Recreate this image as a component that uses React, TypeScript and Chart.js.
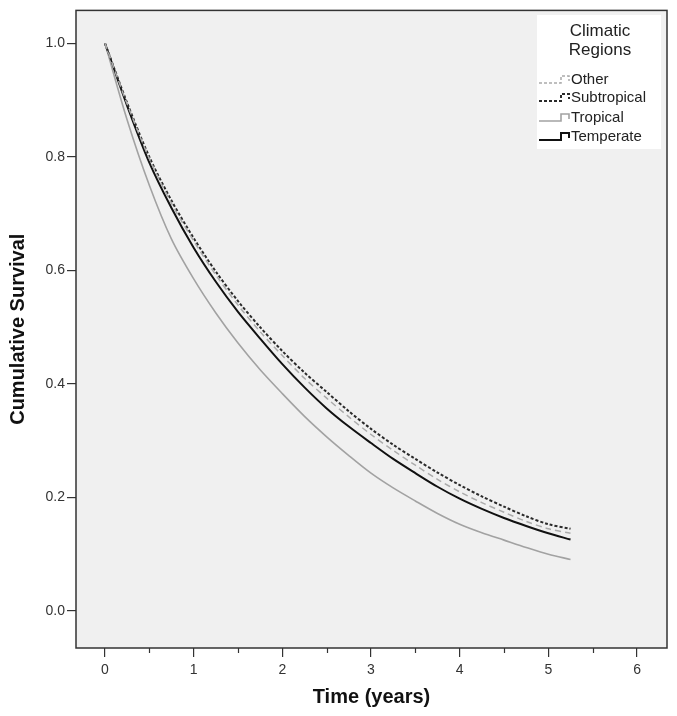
import React, { useEffect, useRef } from 'react';
import { Chart, registerables } from 'chart.js';

Chart.register(...registerables);

// Time points (years)
const times = [0, 0.25, 0.5, 0.75, 1.0, 1.25, 1.5, 1.75, 2.0, 2.25, 2.5, 2.75, 3.0, 3.25, 3.5, 3.75, 4.0, 4.25, 4.5, 4.75, 5.0, 5.25];

// Cumulative survival per climatic region
const other = [1.0, 0.893, 0.797, 0.718, 0.652, 0.592, 0.539, 0.492, 0.45, 0.41, 0.375, 0.342, 0.311, 0.283, 0.257, 0.232, 0.21, 0.191, 0.174, 0.158, 0.145, 0.137];
const subtropical = [1.0, 0.895, 0.8, 0.723, 0.657, 0.598, 0.546, 0.5, 0.458, 0.42, 0.386, 0.352, 0.321, 0.293, 0.268, 0.244, 0.222, 0.202, 0.184, 0.167, 0.153, 0.145];
const tropical = [1.0, 0.865, 0.75, 0.655, 0.585, 0.525, 0.472, 0.425, 0.383, 0.343, 0.307, 0.274, 0.243, 0.217, 0.194, 0.172, 0.153, 0.138, 0.125, 0.112, 0.1, 0.091];
const temperate = [1.0, 0.89, 0.79, 0.71, 0.64, 0.58, 0.527, 0.48, 0.435, 0.394, 0.357, 0.325, 0.296, 0.268, 0.243, 0.219, 0.198, 0.18, 0.164, 0.15, 0.137, 0.126];

const seriesNames = ['Other', 'Subtropical', 'Tropical', 'Temperate'];
const legendTitle = ['Climatic', 'Regions'];

const yTickValues = [0.0, 0.2, 0.4, 0.6, 0.8, 1.0];
const xTickValues = [0, 1, 2, 3, 4, 5, 6];
const xMinorTickValues = [0.5, 1.5, 2.5, 3.5, 4.5, 5.5];

const FONT = "'Liberation Sans', Arial, sans-serif";

const styles = [
  { color: '#ababab', width: 1.5, dash: [6, 4] },
  { color: '#2a2a2a', width: 2, dash: [3, 2] },
  { color: '#a2a2a2', width: 1.6, dash: [] as number[] },
  { color: '#111111', width: 2, dash: [] as number[] },
];

const seriesData = [other, subtropical, tropical, temperate];

const decorPlugin = {
  id: 'decor',
  beforeDraw(chart: any) {
    const { ctx, chartArea } = chart;
    const { left, top, right, bottom } = chartArea;
    ctx.save();
    ctx.fillStyle = '#f0f0f0';
    ctx.fillRect(left, top, right - left, bottom - top);
    ctx.restore();
  },
  afterDraw(chart: any) {
    const { ctx, chartArea } = chart;
    const { left, top, right, bottom } = chartArea;
    ctx.save();
    // frame
    ctx.strokeStyle = '#333';
    ctx.lineWidth = 1.5;
    ctx.strokeRect(left, top, right - left, bottom - top);
    // minor x ticks
    const xs = chart.scales.x;
    ctx.lineWidth = 1.2;
    ctx.strokeStyle = '#333';
    for (const v of xMinorTickValues) {
      const px = Math.round(xs.getPixelForValue(v)) + 0.5;
      ctx.beginPath();
      ctx.moveTo(px, bottom);
      ctx.lineTo(px, bottom + 5);
      ctx.stroke();
    }
    // legend box
    const bx = 537, by = 15, bw = 124, bh = 134;
    ctx.fillStyle = '#ffffff';
    ctx.fillRect(bx, by, bw, bh);
    ctx.fillStyle = '#222';
    ctx.textAlign = 'center';
    ctx.textBaseline = 'middle';
    ctx.font = `17px ${FONT}`;
    ctx.fillText(legendTitle[0], bx + bw / 2 + 1, 31);
    ctx.fillText(legendTitle[1], bx + bw / 2 + 1, 50);
    const itemYs = [80, 98, 118, 137];
    ctx.font = `15px ${FONT}`;
    ctx.textAlign = 'left';
    seriesNames.forEach((name, i) => {
      const y = itemYs[i];
      const st = styles[i];
      ctx.save();
      ctx.strokeStyle = st.color;
      ctx.lineWidth = st.width;
      ctx.setLineDash(st.dash.length ? [3, 2] : []);
      ctx.beginPath();
      ctx.moveTo(539, y + 3);
      ctx.lineTo(561, y + 3);
      ctx.lineTo(561, y - 4);
      ctx.lineTo(569, y - 4);
      ctx.lineTo(569, y + 1);
      ctx.stroke();
      ctx.restore();
      ctx.fillStyle = '#222';
      ctx.fillText(name, 571, y);
    });
    ctx.restore();
  },
};

export default function App() {
  const ref = useRef<HTMLCanvasElement | null>(null);

  useEffect(() => {
    if (!ref.current) return;
    const datasets = seriesNames.map((name, i) => ({
      label: name,
      data: times.map((t, j) => ({ x: t, y: seriesData[i][j] })),
      borderColor: styles[i].color,
      borderWidth: styles[i].width,
      borderDash: styles[i].dash,
      pointRadius: 0,
      fill: false,
      tension: 0.3,
    }));
    const chart = new Chart(ref.current, {
      type: 'line',
      data: { datasets },
      plugins: [decorPlugin],
      options: {
        animation: false,
        responsive: false,
        layout: { padding: { top: 10, right: 10, left: 0, bottom: 0 } },
        plugins: { legend: { display: false }, tooltip: { enabled: false } },
        scales: {
          x: {
            type: 'linear',
            min: -0.327,
            max: 6.338,
            afterBuildTicks: (s: any) => {
              s.ticks = xTickValues.map((v) => ({ value: v }));
            },
            afterFit: (s: any) => {
              s.height = 68;
            },
            grid: { drawOnChartArea: false, drawTicks: true, tickLength: 9, color: '#333', lineWidth: 1.2 },
            border: { display: false },
            ticks: {
              autoSkip: false,
              maxRotation: 0,
              padding: 5,
              color: '#333',
              font: { family: FONT, size: 14 },
              callback: (v: any) => String(v),
            },
            title: {
              display: true,
              text: 'Time (years)',
              color: '#111',
              font: { family: FONT, size: 20, weight: 'bold', lineHeight: 1.2 },
              padding: { top: 0, bottom: 7 },
            },
          },
          y: {
            type: 'linear',
            min: -0.065,
            max: 1.058,
            afterBuildTicks: (s: any) => {
              s.ticks = yTickValues.map((v) => ({ value: v }));
            },
            afterFit: (s: any) => {
              s.width = 76;
            },
            grid: { drawOnChartArea: false, drawTicks: true, tickLength: 9, color: '#333', lineWidth: 1.2 },
            border: { display: false },
            ticks: {
              padding: 2,
              color: '#333',
              font: { family: FONT, size: 14 },
              callback: (v: any) => Number(v).toFixed(1),
            },
            title: {
              display: true,
              text: 'Cumulative Survival',
              color: '#111',
              font: { family: FONT, size: 20, weight: 'bold', lineHeight: 1.2 },
              padding: { top: 6, bottom: 0 },
            },
          },
        },
      },
    } as any);
    return () => chart.destroy();
  }, []);

  return (
    <div style={{ position: 'fixed', left: 0, top: 0, width: 677, height: 716, background: '#fff' }}>
      <canvas ref={ref} width={677} height={716} style={{ display: 'block' }} />
    </div>
  );
}
